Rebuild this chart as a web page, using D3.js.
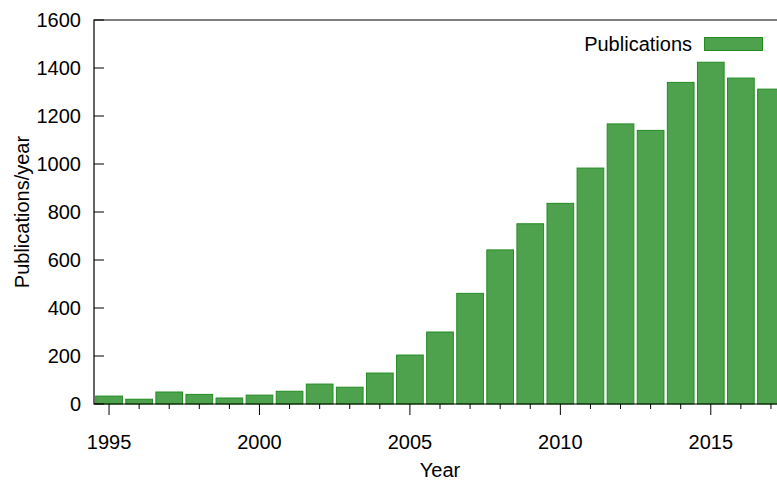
<!DOCTYPE html>
<meta charset="utf-8">
<style>

body {
  margin: 0;
  overflow: hidden;
  background: #fff;
}

svg {
  display: block;
  font-family: Arial, "Liberation Sans", Helvetica, sans-serif;
}

.bar {
  fill: #4ea24e;
  stroke: #228b22;
  stroke-width: 1;
}

.tick-label {
  font-size: 20px;
  fill: #000;
}

.frame {
  fill: none;
  stroke: #000;
  stroke-width: 1.2;
}

</style>
<svg width=777 height=480></svg>
<script src='https://cdn.jsdelivr.net/npm/d3@7'></script>
<script>

// publications per year
const years = [1995, 1996, 1997, 1998, 1999, 2000, 2001, 2002, 2003, 2004, 2005,
               2006, 2007, 2008, 2009, 2010, 2011, 2012, 2013, 2014, 2015, 2016, 2017];
const publications = [33, 20, 50, 40, 25, 37, 53, 83, 70, 129, 204,
                      300, 461, 642, 751, 836, 983, 1167, 1140, 1340, 1424, 1358, 1312];
const yTicks = [0, 200, 400, 600, 800, 1000, 1200, 1400, 1600];
const xMajorTicks = [1995, 2000, 2005, 2010, 2015];
const seriesName = "Publications";

const marginLeft = 94;
const marginTop = 20;
const plotWidth = 692;   // plot runs past the right edge of the window
const plotHeight = 384;
const barFrac = 0.92;

const svg = d3.select("svg");

const x = d3.scaleLinear()
  .domain([1994.5, 2017.5])
  .range([marginLeft, marginLeft + plotWidth]);

const y = d3.scaleLinear()
  .domain([0, 1600])
  .range([marginTop + plotHeight, marginTop]);

const step = x(1996) - x(1995);

// bars
svg.append("g").selectAll("rect")
  .data(years.map((yr, i) => ({year: yr, value: publications[i]})))
  .enter().append("rect")
  .attr("class", "bar")
  .attr("x", d => x(d.year) - step * barFrac / 2 + 0.5)
  .attr("width", step * barFrac - 1)
  .attr("y", d => y(d.value))
  .attr("height", d => y(0) - y(d.value));

// frame: top, left, bottom, right
svg.append("path")
  .attr("class", "frame")
  .attr("d", "M" + x.range()[0] + "," + y.range()[1] +
             "H" + x.range()[1] + "V" + y.range()[0] +
             "H" + x.range()[0] + "Z");

// y axis: ticks point inward
const yAxis = svg.append("g").attr("transform", "translate(" + marginLeft + ",0)");
yAxis.selectAll("line")
  .data(yTicks)
  .enter().append("line")
  .attr("x1", 0).attr("x2", 10)
  .attr("y1", d => y(d)).attr("y2", d => y(d))
  .attr("stroke", "#000");
yAxis.selectAll("text")
  .data(yTicks)
  .enter().append("text")
  .attr("class", "tick-label")
  .attr("x", -13)
  .attr("y", d => y(d))
  .attr("dy", "0.36em")
  .attr("text-anchor", "end")
  .text(d => d);

// x axis: minor every year, major every 5, pointing outward
const xAxis = svg.append("g").attr("transform", "translate(0," + y(0) + ")");
xAxis.selectAll("line")
  .data(years)
  .enter().append("line")
  .attr("x1", d => x(d)).attr("x2", d => x(d))
  .attr("y1", 0)
  .attr("y2", d => xMajorTicks.includes(d) ? 11 : 5)
  .attr("stroke", "#000");
xAxis.selectAll("text")
  .data(xMajorTicks)
  .enter().append("text")
  .attr("class", "tick-label")
  .attr("x", d => x(d))
  .attr("y", 38)
  .attr("dy", "0.36em")
  .attr("text-anchor", "middle")
  .text(d => d);

// axis titles
svg.append("text")
  .attr("class", "tick-label")
  .attr("x", marginLeft + plotWidth / 2)
  .attr("y", 470)
  .attr("dy", "0.36em")
  .attr("text-anchor", "middle")
  .text("Year");

svg.append("text")
  .attr("class", "tick-label")
  .attr("transform", "translate(22," + (marginTop + plotHeight / 2) + ") rotate(-90)")
  .attr("dy", "0.36em")
  .attr("text-anchor", "middle")
  .text("Publications/year");

// legend
const legend = svg.append("g").attr("transform", "translate(0,44)");
legend.append("text")
  .attr("class", "tick-label")
  .attr("x", 692)
  .attr("dy", "0.36em")
  .attr("text-anchor", "end")
  .text(seriesName);
legend.append("rect")
  .attr("class", "bar")
  .attr("x", 704.5)
  .attr("y", -6.5)
  .attr("width", 58)
  .attr("height", 13);

</script>
